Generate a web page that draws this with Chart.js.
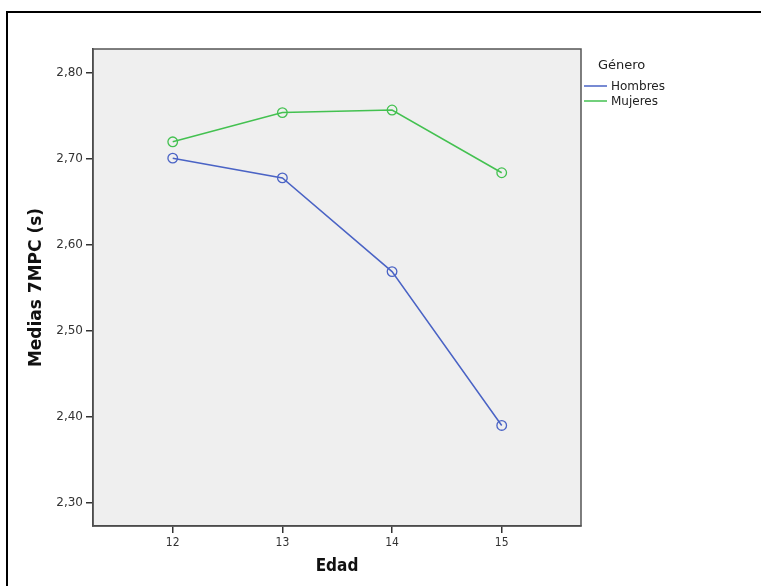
<!DOCTYPE html>
<html>
<head>
<meta charset="utf-8">
<script src="https://cdn.jsdelivr.net/npm/chart.js@4/dist/chart.umd.min.js"></script>
<style>
  html, body { margin: 0; padding: 0; background: #fff; }
  #wrap { position: relative; width: 761px; height: 586px; overflow: hidden; }
  #frame {
    position: absolute; left: 6px; top: 11px; width: 900px; height: 700px;
    border-left: 2px solid #000; border-top: 2px solid #000;
  }
  canvas { position: absolute; left: 0; top: 0; }
</style>
</head>
<body>
<div id="wrap">
  <div id="frame"></div>
  <canvas id="grafico" width="761" height="586"></canvas>
</div>
<script>
  // Medias del 7MPC por edad y género
  const edades = [12, 13, 14, 15];
  const hombres = [2.701, 2.678, 2.569, 2.390];
  const mujeres = [2.720, 2.754, 2.757, 2.684];
  const ticksY = [2.30, 2.40, 2.50, 2.60, 2.70, 2.80];

  const azul = "#4a63c5";
  const verde = "#43c150";

  const toPoints = (ys) => edades.map((x, i) => ({ x: x, y: ys[i] }));

  // Fondo gris y marco del área de trazado
  const plotArea = {
    id: "plotArea",
    beforeDraw(chart) {
      const { ctx, chartArea: a } = chart;
      ctx.save();
      ctx.fillStyle = "#efefef";
      ctx.fillRect(a.left, a.top, a.right - a.left, a.bottom - a.top);
      ctx.restore();
    },
    afterDraw(chart) {
      const { ctx, chartArea: a } = chart;
      ctx.save();
      ctx.strokeStyle = "#555";
      ctx.lineWidth = 1.5;
      ctx.strokeRect(a.left, a.top, a.right - a.left, a.bottom - a.top);
      ctx.restore();
    }
  };

  // Leyenda a la derecha con título "Género"
  const leyenda = {
    id: "leyenda",
    afterDraw(chart) {
      const ctx = chart.ctx;
      ctx.save();
      ctx.fillStyle = "#222";
      ctx.textBaseline = "middle";
      ctx.font = "13px 'DejaVu Sans'";
      ctx.fillText("Género", 598, 66);
      ctx.font = "12px 'DejaVu Sans'";
      chart.data.datasets.forEach((ds, i) => {
        const y = 86 + i * 15;
        ctx.strokeStyle = ds.borderColor;
        ctx.lineWidth = 1.5;
        ctx.beginPath();
        ctx.moveTo(584, y);
        ctx.lineTo(607, y);
        ctx.stroke();
        ctx.fillText(ds.label, 611, y + 0.5);
      });
      ctx.restore();
    }
  };

  new Chart(document.getElementById("grafico"), {
    type: "line",
    data: {
      datasets: [
        {
          label: "Hombres",
          data: toPoints(hombres),
          borderColor: azul,
          backgroundColor: "transparent",
          borderWidth: 1.5,
          pointRadius: 4.8,
          pointBorderWidth: 1.3,
          pointBackgroundColor: "transparent",
          pointBorderColor: azul,
          tension: 0
        },
        {
          label: "Mujeres",
          data: toPoints(mujeres),
          borderColor: verde,
          backgroundColor: "transparent",
          borderWidth: 1.5,
          pointRadius: 4.8,
          pointBorderWidth: 1.3,
          pointBackgroundColor: "transparent",
          pointBorderColor: verde,
          tension: 0
        }
      ]
    },
    options: {
      responsive: false,
      animation: false,
      devicePixelRatio: 1,
      layout: { padding: { left: 0, top: 49, right: 180, bottom: 0 } },
      plugins: {
        legend: { display: false },
        tooltip: { enabled: false }
      },
      scales: {
        x: {
          type: "linear",
          position: "bottom",
          min: 11.273,
          max: 15.723,
          afterBuildTicks: (scale) => { scale.ticks = edades.map((v) => ({ value: v })); },
          afterFit: (scale) => { scale.height = 60; },
          grid: { drawOnChartArea: false, drawTicks: true, tickLength: 7, color: "#333", lineWidth: 1.5 },
          border: { display: true, color: "#333", width: 1.5 },
          ticks: {
            color: "#333",
            padding: 3,
            maxRotation: 0,
            font: { family: "'DejaVu Sans Condensed', 'Liberation Sans Narrow', 'DejaVu Sans'", size: 12 },
            callback: (v) => String(v)
          },
          title: {
            display: true,
            text: "Edad",
            color: "#111",
            font: { family: "'DejaVu Sans Condensed', 'Liberation Sans Narrow', 'Open Sans'", size: 17, weight: "bold" },
            padding: { top: 0, bottom: 9 }
          }
        },
        y: {
          type: "linear",
          min: 2.273,
          max: 2.828,
          afterBuildTicks: (scale) => { scale.ticks = ticksY.map((v) => ({ value: v })); },
          afterFit: (scale) => { scale.width = 93; },
          grid: { drawOnChartArea: false, drawTicks: true, tickLength: 7, color: "#333", lineWidth: 1.5 },
          border: { display: true, color: "#333", width: 1.5 },
          ticks: {
            color: "#333",
            padding: 3,
            font: { family: "'DejaVu Sans'", size: 12 },
            callback: (v) => v.toFixed(2).replace(".", ",")
          },
          title: {
            display: true,
            text: "Medias 7MPC (s)",
            color: "#111",
            font: { family: "'DejaVu Sans'", size: 17, weight: "bold" },
            padding: { top: 26, bottom: 0 }
          }
        }
      }
    },
    plugins: [plotArea, leyenda]
  });
</script>
</body>
</html>
